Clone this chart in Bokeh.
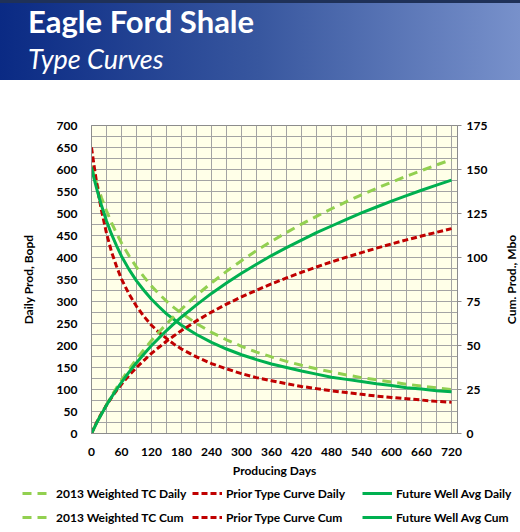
from bokeh.plotting import figure
from bokeh.models import (Range1d, LinearAxis, FixedTicker, Legend, LegendItem,
                          ColumnDataSource, Div)
from bokeh.layouts import column, row
from bokeh.embed import file_html
from bokeh.resources import INLINE

# ---------------- data ----------------
days = [0, 5, 10, 15, 20, 30, 40, 50, 60, 75, 90, 105, 120, 135, 150, 165, 180,
        210, 240, 270, 300, 330, 360, 390, 420, 450, 480, 510, 540, 570, 600,
        630, 660, 690, 720]

tc2013_daily = [608, 588, 570, 553, 536, 506, 479, 455, 433, 404, 378, 356, 335,
                317, 301, 286, 273, 250, 230, 213, 198, 185, 174, 164, 155, 147,
                140, 133, 127, 122, 117, 112, 108, 104, 100]
tc2013_cum = [0, 3.0, 5.8, 8.6, 11.3, 16.4, 21.3, 25.9, 30.3, 36.5, 42.3, 47.7,
              52.8, 57.7, 62.2, 66.6, 70.7, 78.5, 85.6, 92.1, 98.2, 103.9, 109.2,
              114.2, 119.0, 123.4, 127.7, 131.7, 135.6, 139.3, 142.8, 146.2,
              149.4, 152.6, 155.6]

prior_daily = [650, 610, 572, 537, 507, 455, 413, 380, 351, 317, 289, 266, 246,
               230, 216, 203, 192, 174, 159, 147, 136, 127, 120, 113, 107, 102,
               97, 93, 89, 85, 82, 79, 76, 73, 71]
prior_cum = [0, 3.1, 6.1, 8.8, 11.4, 16.1, 20.4, 24.4, 28.0, 33.0, 37.5, 41.6,
             45.5, 49.0, 52.4, 55.5, 58.5, 64.0, 69.0, 73.5, 77.6, 81.4, 85.0,
             88.4, 91.6, 94.6, 97.5, 100.2, 102.8, 105.3, 107.7, 110.0, 112.2,
             114.3, 116.4]

future_daily = [605, 580, 558, 537, 518, 483, 453, 427, 403, 373, 347, 325, 305,
                288, 272, 259, 246, 225, 207, 192, 179, 168, 158, 150, 142, 135,
                128, 123, 118, 113, 109, 104, 101, 97, 95]
future_cum = [0, 2.9, 5.8, 8.5, 11.1, 16.1, 20.7, 25.0, 29.1, 34.9, 40.2, 45.2,
              50.0, 54.3, 58.5, 62.4, 66.2, 73.1, 79.6, 85.5, 91.1, 96.2, 101.1,
              105.6, 109.9, 114.1, 117.9, 121.7, 125.3, 128.7, 132.0, 135.2,
              138.2, 141.1, 144.0]

x_ticks = [0, 60, 120, 180, 240, 300, 360, 420, 480, 540, 600, 660, 720]
y_left_ticks = [0, 50, 100, 150, 200, 250, 300, 350, 400, 450, 500, 550, 600, 650, 700]
y_right_ticks = [0, 25, 50, 75, 100, 125, 150, 175]

title_text = "Eagle Ford Shale"
subtitle_text = "Type Curves"
right_label = "Cum. Prod., Mbo"

# legend order, row by row as in the reference
labels = ["2013 Weighted TC Daily", "Prior Type Curve Daily", "Future Well Avg Daily",
          "2013 Weighted TC Cum", "Prior Type Curve Cum", "Future Well Avg Cum"]

# ---------------- styling ----------------
FONT = "Lato"
C_LIGHT = "#92D050"
C_RED = "#C00000"
C_GREEN = "#00B050"
GRID = "#A3A3A3"
W = 520
HEAD_H = 80
LEG_H = 50
MAIN_H = 532 - HEAD_H - LEG_H
SIDE_W = 20
MAIN_W = W - SIDE_W
BOTTOM = MAIN_H - 45 - 308


def no_align(fig):
    if "frame_align" in fig.properties():
        fig.frame_align = False


# ---------------- header band ----------------
head_html = (
    '<div style="margin:0;padding:0;">'
    '<div style="font-family:Lato;font-weight:bold;font-size:31px;line-height:31px;'
    'color:#ffffff;margin:6px 0 0 28px;white-space:nowrap;">%s</div>'
    '<div style="font-family:Lato;font-style:italic;font-size:27px;line-height:27px;'
    'color:#ffffff;margin:8px 0 0 28px;white-space:nowrap;">%s</div>'
    '</div>' % (title_text, subtitle_text)
)
head = Div(text=head_html, width=W, height=HEAD_H,
           styles={"background": "linear-gradient(to right, #0A2A84 0%, #38579f 50%, #7891CB 100%)",
                   "box-shadow": "inset 0 3px 0 #1f3158",
                   "margin": "0", "padding": "0", "overflow": "hidden"})

# ---------------- main chart ----------------
p = figure(width=MAIN_W, height=MAIN_H, x_range=Range1d(0, 732), y_range=Range1d(0, 700),
           output_backend="svg", toolbar_location=None,
           min_border_left=91, min_border_right=MAIN_W - 457, min_border_top=45,
           min_border_bottom=BOTTOM)
no_align(p)
p.background_fill_color = "#FFFFE8"
p.border_fill_color = "white"
p.outline_line_color = "#8C8C8C"
p.outline_line_width = 1

p.extra_y_ranges = {"cum": Range1d(0, 175)}
right_axis = LinearAxis(y_range_name="cum")
p.add_layout(right_axis, "right")

p.xaxis.ticker = FixedTicker(ticks=x_ticks,
                             minor_ticks=[d + 30 for d in x_ticks[:-1]])
p.yaxis[0].ticker = FixedTicker(ticks=y_left_ticks,
                                minor_ticks=[v + 25 for v in y_left_ticks[:-1]])
right_axis.ticker = FixedTicker(ticks=y_right_ticks)

p.xaxis.axis_label = "Producing Days"
p.yaxis[0].axis_label = "Daily Prod, Bopd"

for ax in [p.xaxis[0], p.yaxis[0], right_axis]:
    ax.major_label_text_font = FONT
    ax.major_label_text_font_style = "bold"
    ax.major_label_text_font_size = "12px"
    ax.major_label_text_color = "black"
    ax.axis_label_text_font = FONT
    ax.axis_label_text_font_style = "bold"
    ax.axis_label_text_font_size = "12px"
    ax.axis_label_text_color = "black"
    ax.axis_line_color = "#8C8C8C"
    ax.major_tick_line_color = "#8C8C8C"
    ax.minor_tick_line_color = None
    ax.major_tick_in = 0

p.xaxis.major_tick_out = 0
p.xaxis.major_label_standoff = 10
p.xaxis.axis_label_standoff = 4
p.yaxis[0].major_tick_out = 0
p.yaxis[0].major_label_standoff = 10
p.yaxis[0].axis_label_standoff = 18
right_axis.major_tick_out = 4
right_axis.major_label_standoff = 5

p.xgrid.grid_line_color = GRID
p.ygrid.grid_line_color = GRID
p.xgrid.minor_grid_line_color = GRID
p.ygrid.minor_grid_line_color = GRID

src = ColumnDataSource(dict(days=days, tcd=tc2013_daily, tcc=tc2013_cum,
                            prd=prior_daily, prc=prior_cum,
                            fud=future_daily, fuc=future_cum))

lw = 3
styles = [  # (column, colour, dash, axis)
    ("tcd", C_LIGHT, "9 6", "default"),
    ("prd", C_RED, "6 3", "default"),
    ("fud", C_GREEN, "solid", "default"),
    ("tcc", C_LIGHT, "9 6", "cum"),
    ("prc", C_RED, "6 3", "cum"),
    ("fuc", C_GREEN, "solid", "cum"),
]
for col, color, dash, rng in styles:
    p.line("days", col, source=src, y_range_name=rng, line_color=color,
           line_width=lw, line_dash=dash)

# ---------------- right-hand axis title strip (reads bottom-to-top) ----------------
side = figure(width=SIDE_W, height=MAIN_H, x_range=Range1d(0, 1), y_range=Range1d(0, 175),
              output_backend="svg", toolbar_location=None, x_axis_type=None,
              min_border_left=SIDE_W - 1, min_border_right=0, min_border_top=45,
              min_border_bottom=BOTTOM)
no_align(side)
side.outline_line_color = None
side.background_fill_color = "white"
side.grid.visible = False
side.yaxis.ticker = FixedTicker(ticks=[])
side.yaxis.axis_label = right_label
side.yaxis.axis_line_color = None
side.yaxis.major_tick_line_color = None
side.yaxis.minor_tick_line_color = None
side.yaxis.major_tick_out = 0
side.yaxis.major_label_standoff = 0
side.yaxis.axis_label_standoff = 2
side.yaxis.axis_label_text_font = FONT
side.yaxis.axis_label_text_font_style = "bold"
side.yaxis.axis_label_text_font_size = "12px"
side.yaxis.axis_label_text_color = "black"

# ---------------- legend strip (same series, legend only) ----------------
leg = figure(width=W, height=LEG_H, x_range=Range1d(2000, 2001), y_range=Range1d(2000, 2001),
             output_backend="svg", toolbar_location=None,
             x_axis_type=None, y_axis_type=None, min_border=0)
no_align(leg)
leg.outline_line_color = None
leg.grid.visible = False
leg.background_fill_color = "white"
leg_rends = []
for col, color, dash, rng in styles:
    leg_rends.append(leg.line("days", col, source=src, line_color=color,
                              line_width=lw, line_dash=dash))

legend = Legend(items=[LegendItem(label=l, renderers=[r]) for l, r in zip(labels, leg_rends)],
                location=(22, 5), orientation="horizontal", ncols=3,
                label_text_font=FONT, label_text_font_style="bold",
                label_text_font_size="12px", label_text_color="black",
                glyph_width=30, glyph_height=20, label_height=20, label_width=132,
                label_standoff=4, spacing=4, padding=0, margin=0,
                border_line_color=None, background_fill_alpha=0)
leg.add_layout(legend)

layout = column(head, row(p, side, spacing=0), leg, spacing=0)
open("out.html", "w").write(file_html(layout, INLINE))
